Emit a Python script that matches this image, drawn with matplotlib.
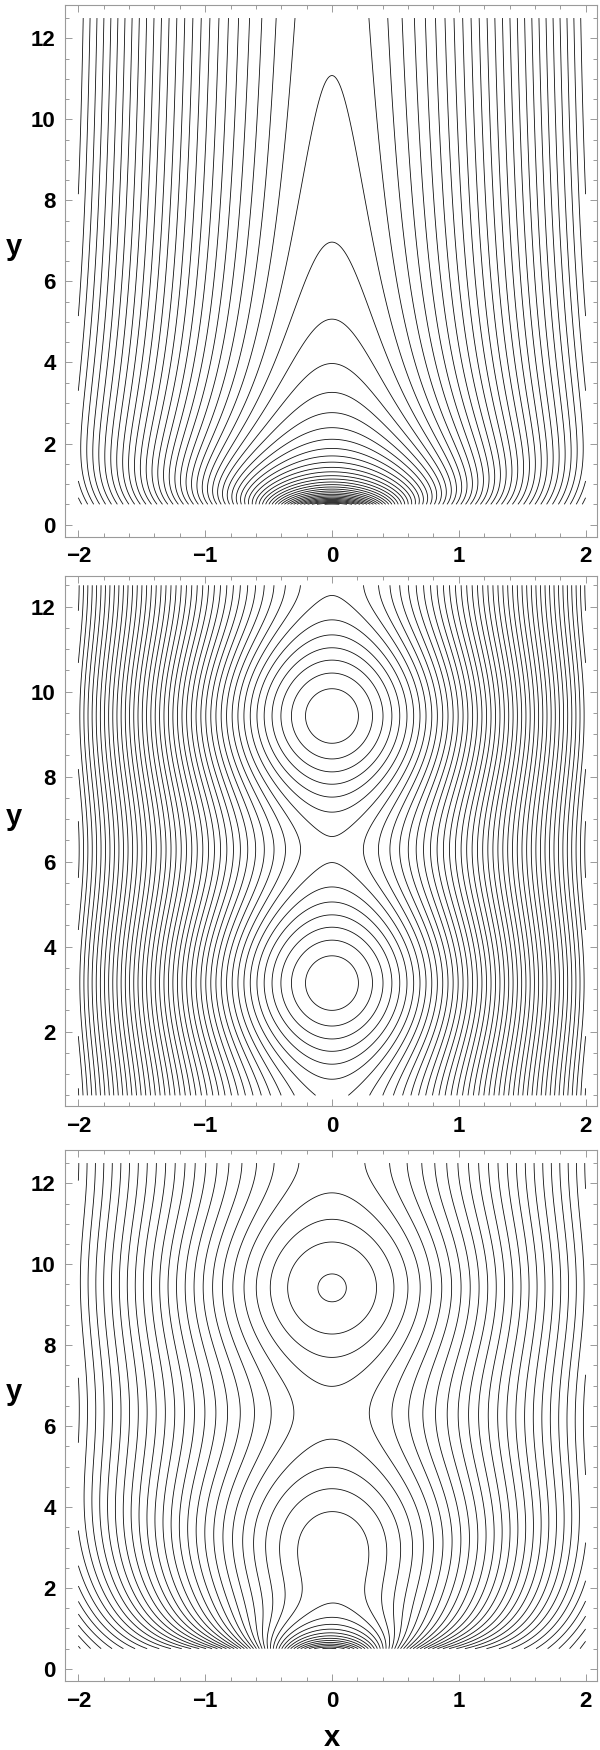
import numpy as np
import matplotlib
matplotlib.use('Agg')
import matplotlib.pyplot as plt
from matplotlib.ticker import MultipleLocator

plt.rcParams['font.family'] = ['Liberation Sans', 'DejaVu Sans']
plt.rcParams['font.weight'] = 'bold'

# dominio de las curvas de nivel
X_RANGE = [-2.0, 2.0]
Y_RANGE = [0.5, 12.5]

# panel 1: lamina de Harris + dipolo en la base
DIP_A = 1.0
BASE_Y0 = -0.1
# panel 2: ojos de gato de Stuart
STUART_EPS = 0.11
# panel 3: ojos de gato + par polo/cero en la base (solucion de Liouville)
LIOU_C = 0.11
LIOU_B = 0.25

# separacion de niveles y punto (x, y) por el que pasa un contorno
LEVEL_STEP = [0.052, 0.032, 0.061]
LEVEL_ANCHOR = [(0.44, 12.5), (0.0, 7.82), (0.0, 9.76)]

# limites y marcas de los ejes
YLIMS = [(-0.3, 12.82), (0.25, 12.72), (-0.3, 12.82)]
XLIM = (-2.103, 2.09)
X_TICKS = [-2, -1, 0, 1, 2]
Y_TICKS = [[0, 2, 4, 6, 8, 10, 12], [2, 4, 6, 8, 10, 12],
           [0, 2, 4, 6, 8, 10, 12]]

x = np.linspace(X_RANGE[0], X_RANGE[1], 801)
y = np.linspace(Y_RANGE[0], Y_RANGE[1], 1601)
X, Y = np.meshgrid(x, y)


def harris_dipole(xx, yy):
    dy = yy - BASE_Y0
    return np.log(np.cosh(xx)) - DIP_A * dy / (xx ** 2 + dy ** 2)


def stuart(xx, yy):
    return np.log(np.cosh(xx) + STUART_EPS * np.cos(yy))


def liouville(xx, yy):
    # psi = ln((1+|f|^2)/(2|f'|)), f = (e^z + c) (z+b)/(z-b)
    x0 = 0.5 * np.log(1 + LIOU_C ** 2)
    Z = (xx + x0) + 1j * yy
    e = np.exp(Z)
    g = (Z + LIOU_B) / (Z - LIOU_B)
    gp = -2 * LIOU_B / (Z - LIOU_B) ** 2
    f = (e + LIOU_C) * g
    fp = e * g + (e + LIOU_C) * gp
    return np.log((1 + np.abs(f) ** 2) / (2 * np.abs(fp)))


funcs = [harris_dipole, stuart, liouville]

fig = plt.figure(figsize=(6, 17.5), dpi=100)
boxes = [[0.1088, 0.6933, 0.8862, 0.3038],
         [0.1088, 0.3680, 0.8862, 0.3029],
         [0.1088, 0.0394, 0.8862, 0.3034]]

FRAME = '#9a9a9a'
for i, fn in enumerate(funcs):
    P = fn(X, Y)
    ax = fig.add_axes(boxes[i])
    step = LEVEL_STEP[i]
    off = float(fn(np.array(LEVEL_ANCHOR[i][0]), np.array(LEVEL_ANCHOR[i][1])))
    lo = off + step * np.floor((np.nanmin(P) - off) / step)
    hi = np.nanmax(P)
    levels = np.arange(lo, hi + step, step)
    ax.contour(X, Y, P, levels=levels, colors='#111111',
               linewidths=0.6, linestyles='solid')
    ax.set_xlim(*XLIM)
    ax.set_ylim(*YLIMS[i])
    ax.set_xticks(X_TICKS)
    ax.set_yticks(Y_TICKS[i])
    ax.xaxis.set_minor_locator(MultipleLocator(0.2))
    ax.yaxis.set_minor_locator(MultipleLocator(0.5))
    ax.set_xticklabels(['\u2212' + str(-t) if t < 0 else str(t)
                        for t in X_TICKS])
    ax.tick_params(which='both', direction='in', top=True, right=True,
                   color=FRAME, width=0.7, labelsize=16, pad=7)
    ax.tick_params(which='major', length=5)
    ax.tick_params(which='minor', length=2.8)
    for sp in ax.spines.values():
        sp.set_color(FRAME)
        sp.set_linewidth(0.8)
    for lab in ax.get_xticklabels() + ax.get_yticklabels():
        lab.set_fontweight('bold')
    ax.text(-0.097, 0.545, 'y', transform=ax.transAxes, ha='center',
            va='center', fontsize=21, fontweight='bold')

fig.text(332 / 600, 1 - 1738 / 1750, 'x', ha='center', va='center',
         fontsize=21, fontweight='bold')

fig.savefig('out.png', dpi=100, facecolor='white')
